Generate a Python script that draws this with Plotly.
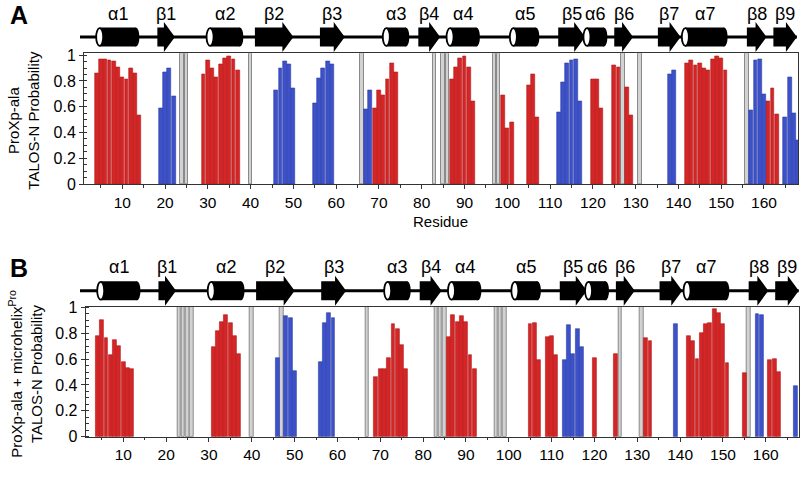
import plotly.graph_objects as go

# ---------------- data ----------------
ss_labels = ["α1", "β1", "α2", "β2", "β3", "α3", "β4", "α4", "α5", "β5", "α6", "β6", "β7", "α7", "β8", "β9"]
ss_types = ["H", "E", "H", "E", "E", "H", "E", "H", "H", "E", "H", "E", "E", "H", "E", "E"]
ss_start = [3.9, 18.2, 29.7, 41.0, 56.2, 70.9, 79.2, 85.8, 100.6, 111.9, 117.8, 125.0, 135.2, 140.8, 156.0, 162.2]
ss_end = [14.0, 22.3, 38.3, 50.0, 62.0, 77.1, 84.3, 93.6, 107.5, 118.2, 123.4, 129.4, 140.5, 151.5, 160.6, 167.7]

a_helix_res = [4, 5, 6, 7, 8, 9, 10, 11, 12, 13, 14,
               29, 30, 31, 32, 33, 34, 35, 36, 37,
               69, 70, 71, 72, 73, 74,
               87, 88, 89, 90, 91, 92,
               99, 100, 101,
               105, 106, 107,
               120, 121, 122,
               125, 126,
               128, 129,
               142, 143, 144, 145, 146, 147, 148, 149, 150, 151,
               161, 162, 163]
a_helix_prob = [0.86, 0.97, 0.97, 0.96, 0.95, 0.91, 0.83, 0.81, 0.90, 0.86, 0.53,
                0.85, 0.96, 0.90, 0.83, 0.93, 0.98, 0.99, 0.97, 0.88,
                0.59, 0.73, 0.69, 0.81, 0.94, 0.87,
                0.81, 0.91, 0.98, 0.99, 0.91, 0.64,
                0.69, 0.43, 0.48,
                0.77, 0.85, 0.52,
                0.81, 0.81, 0.59,
                0.92, 0.91,
                0.75, 0.53,
                0.94, 0.96, 0.92, 0.94, 0.90, 0.88, 0.97, 0.99, 0.98, 0.88,
                0.64, 0.74, 0.54]
a_strand_res = [19, 20, 21, 22, 46, 47, 48, 49, 50, 55, 56, 57, 58, 59, 67, 68,
                112, 113, 114, 115, 116, 117, 138, 139, 157, 158, 159, 160, 165, 166, 167, 168]
a_strand_prob = [0.59, 0.87, 0.90, 0.68, 0.73, 0.90, 0.95, 0.93, 0.74, 0.63, 0.82, 0.90, 0.95, 0.93, 0.58, 0.73,
                 0.56, 0.79, 0.94, 0.96, 0.97, 0.64, 0.85, 0.88, 0.57, 0.96, 0.97, 0.70, 0.52, 0.83, 0.55, 0.34]
a_gap_res = [24, 25, 40, 66, 83, 85, 86, 97, 98, 127, 131, 156]

b_helix_res = [4, 5, 6, 7, 8, 9, 10, 11, 12,
               31, 32, 33, 34, 35, 36, 37,
               69, 70, 71, 72, 73, 74, 75, 76,
               86, 87, 88, 89, 90, 91, 92,
               105, 106, 107,
               109, 110, 111,
               120, 125,
               132, 133,
               142, 143, 144, 145, 146, 147, 148, 149, 150, 151,
               155,
               161, 162, 163]
b_helix_prob = [0.78, 0.90, 0.76, 0.63, 0.75, 0.70, 0.58, 0.53, 0.52,
                0.69, 0.82, 0.89, 0.94, 0.88, 0.78, 0.64,
                0.46, 0.52, 0.52, 0.61, 0.87, 0.83, 0.71, 0.52,
                0.77, 0.94, 0.89, 0.93, 0.89, 0.63, 0.52,
                0.87, 0.88, 0.59,
                0.77, 0.78, 0.63,
                0.61, 0.64,
                0.76, 0.74,
                0.78, 0.74, 0.60, 0.80, 0.87, 0.88, 0.99, 0.96, 0.87, 0.57,
                0.49,
                0.59, 0.60, 0.50]
b_strand_res = [46, 48, 49, 50, 56, 57, 58, 59, 113, 114, 115, 116, 117, 139, 158, 159, 167]
b_strand_prob = [0.61, 0.93, 0.92, 0.51, 0.58, 0.88, 0.96, 0.92, 0.59, 0.86, 0.64, 0.83, 0.69, 0.87, 0.95, 0.94, 0.39]
b_gap_res = [23, 24, 25, 26, 40, 47, 67, 83, 84, 85, 97, 98, 99, 126, 131, 156]

# ---------------- styling / layout ----------------
W, H = 802, 482
FONT = "Liberation Sans, Arial, sans-serif"
RED, RED_EDGE = "#d42626", "#b31a1a"
BLUE, BLUE_EDGE = "#3d52c9", "#2b3ca6"
GRAY, GRAY_EDGE = "#d2d2d2", "#8a8a8a"
AXC = "#333333"


def fx(p):
    return p / W


def fy(p):
    return 1 - p / H


panels = [
    dict(name="A", helix=(a_helix_res, a_helix_prob), strand=(a_strand_res, a_strand_prob), gap=a_gap_res,
         x0=84.0, x1=798.3, y0=53.3, y1=184.0, res0=79.5, scale=4.278, ytop=1.015, hdr=0.0,
         ytitle="ProXp-ala<br>TALOS-N Probability", ytitle_x=24, xtitle=True),
    dict(name="B", helix=(b_helix_res, b_helix_prob), strand=(b_strand_res, b_strand_prob), gap=b_gap_res,
         x0=85.7, x1=799.3, y0=307.0, y1=436.7, res0=80.5, scale=4.283, ytop=1.003, hdr=253.7,
         ytitle="ProXp-ala + microhelix<sup>Pro</sup><br>TALOS-N Probability", ytitle_x=26, xtitle=False),
]

fig = go.Figure()
layout = dict(template="none", width=W, height=H,
              margin=dict(l=0, r=0, t=0, b=0, pad=0, autoexpand=False),
              plot_bgcolor="white", paper_bgcolor="white", showlegend=False,
              barmode="overlay", bargap=0, font=dict(family=FONT, color="black"))
shapes, annotations = [], []

HDR_H = 53.3          # header band height in px (header y coords are px from its top)
LINE_Y = 37.0
BODY = (27.5, 46.5)
HEAD = (22.0, 52.0)
HEAD_LEN_PX = 11.0
CAP_PX = 7.0

for i, p in enumerate(panels):
    cx, cy = ("x%d" % (2*i+1)) if i else "x", ("y%d" % (2*i+1)) if i else "y"
    hx, hy = "x%d" % (2*i+2), "y%d" % (2*i+2)
    cxa, cya = ("xaxis%d" % (2*i+1)) if i else "xaxis", ("yaxis%d" % (2*i+1)) if i else "yaxis"
    hxa, hya = "xaxis%d" % (2*i+2), "yaxis%d" % (2*i+2)
    r0, sc = p["res0"], p["scale"]
    xrange = [(p["x0"] - r0) / sc, (p["x1"] - r0) / sc]

    # bars
    fig.add_trace(go.Bar(x=p["gap"], y=[p["ytop"]] * len(p["gap"]), width=0.8,
                         marker=dict(color=GRAY, line=dict(color=GRAY_EDGE, width=1)),
                         xaxis=cx, yaxis=cy, hoverinfo="skip"))
    fig.add_trace(go.Bar(x=p["helix"][0], y=p["helix"][1], width=0.9,
                         marker=dict(color=RED, line=dict(color=RED_EDGE, width=0.6)),
                         xaxis=cx, yaxis=cy))
    fig.add_trace(go.Bar(x=p["strand"][0], y=p["strand"][1], width=0.9,
                         marker=dict(color=BLUE, line=dict(color=BLUE_EDGE, width=0.6)),
                         xaxis=cx, yaxis=cy))
    fig.add_trace(go.Scatter(x=[0], y=[-100], mode="markers", marker=dict(size=1, opacity=0),
                             xaxis=hx, yaxis=hy, hoverinfo="skip"))

    common = dict(automargin=False, showgrid=False, zeroline=False)
    layout[cxa] = dict(domain=[fx(p["x0"]), fx(p["x1"])], range=xrange, anchor=cy,
                       tickmode="linear", tick0=0, dtick=10, ticks="outside", ticklen=4,
                       tickwidth=1, tickcolor=AXC,
                       minor=dict(dtick=5, tick0=0, ticks="outside", ticklen=2.5, tickcolor=AXC),
                       showline=True, linecolor=AXC, linewidth=1, mirror=True,
                       tickfont=dict(size=15.5, family=FONT, color="black"), **common)
    layout[cya] = dict(domain=[fy(p["y1"]), fy(p["y0"])], range=[0, p["ytop"]], anchor=cx,
                       tickmode="linear", tick0=0, dtick=0.2, ticks="outside", ticklen=4,
                       tickwidth=1, tickcolor=AXC,
                       minor=dict(dtick=0.05, tick0=0, ticks="inside", ticklen=3, tickcolor=AXC),
                       showline=True, linecolor=AXC, linewidth=1, mirror=True,
                       tickfont=dict(size=16, family=FONT, color="black"), **common)
    hx0, hx1 = 76.0, 802.0
    layout[hxa] = dict(domain=[fx(hx0), fx(hx1)], range=[(hx0 - r0) / sc, (hx1 - r0) / sc], anchor=hy,
                       visible=False, **common)
    layout[hya] = dict(domain=[fy(p["hdr"] + HDR_H), fy(p["hdr"])], range=[HDR_H, 0], anchor=hx,
                       visible=False, **common)

    # secondary-structure header
    shapes.append(dict(type="line", xref=hx, yref=hy, x0=(80 - r0) / sc, x1=max(ss_end),
                       y0=LINE_Y, y1=LINE_Y, line=dict(color="black", width=3)))
    head = HEAD_LEN_PX / sc
    cap = CAP_PX / sc
    for kind in ("E", "H"):
        for lab, t, s, e in zip(ss_labels, ss_types, ss_start, ss_end):
            if t != kind:
                continue
            if t == "E":
                hb = e - head
                path = (f"M{s},{BODY[0]} L{hb},{BODY[0]} L{hb},{HEAD[0]} L{e},{LINE_Y} "
                        f"L{hb},{HEAD[1]} L{hb},{BODY[1]} L{s},{BODY[1]} Z")
                shapes.append(dict(type="path", xref=hx, yref=hy, path=path,
                                   fillcolor="black", line=dict(width=0)))
            else:
                shapes.append(dict(type="rect", xref=hx, yref=hy, x0=s + cap / 2, x1=e - cap / 2,
                                   y0=BODY[0], y1=BODY[1], fillcolor="black", line=dict(width=0)))
                shapes.append(dict(type="circle", xref=hx, yref=hy, x0=e - cap, x1=e,
                                   y0=BODY[0], y1=BODY[1], fillcolor="black", line=dict(width=0)))
                shapes.append(dict(type="circle", xref=hx, yref=hy, x0=s, x1=s + cap,
                                   y0=BODY[0] + 0.6, y1=BODY[1] - 0.6, fillcolor="white",
                                   line=dict(color="black", width=1.8)))
    for lab, s, e in zip(ss_labels, ss_start, ss_end):
        annotations.append(dict(text=lab, xref=hx, yref=hy, x=(s + e) / 2, y=13.5, showarrow=False,
                                xanchor="center", yanchor="middle", font=dict(size=18, family=FONT)))

    # titles / panel letter
    annotations.append(dict(text=p["ytitle"], xref="paper", yref="paper", x=fx(p["ytitle_x"]),
                            y=fy((p["y0"] + p["y1"]) / 2 + 2), textangle=-90, showarrow=False,
                            xanchor="center", yanchor="middle", font=dict(size=15, family=FONT)))
    annotations.append(dict(text="<b>%s</b>" % p["name"], xref="paper", yref="paper", x=fx(19),
                            y=fy(p["hdr"] + 14.5), showarrow=False, xanchor="center", yanchor="middle",
                            font=dict(size=25, family=FONT)))
    if p["xtitle"]:
        annotations.append(dict(text="Residue", xref="paper", yref="paper", x=fx(440), y=fy(222),
                                showarrow=False, xanchor="center", yanchor="middle",
                                font=dict(size=15, family=FONT)))

layout["shapes"] = shapes
layout["annotations"] = annotations
fig.update_layout(**layout)
fig.write_html("out.html", config={"displayModeBar": False},
               post_script="document.body.style.margin='0';document.body.style.overflow='hidden';")
